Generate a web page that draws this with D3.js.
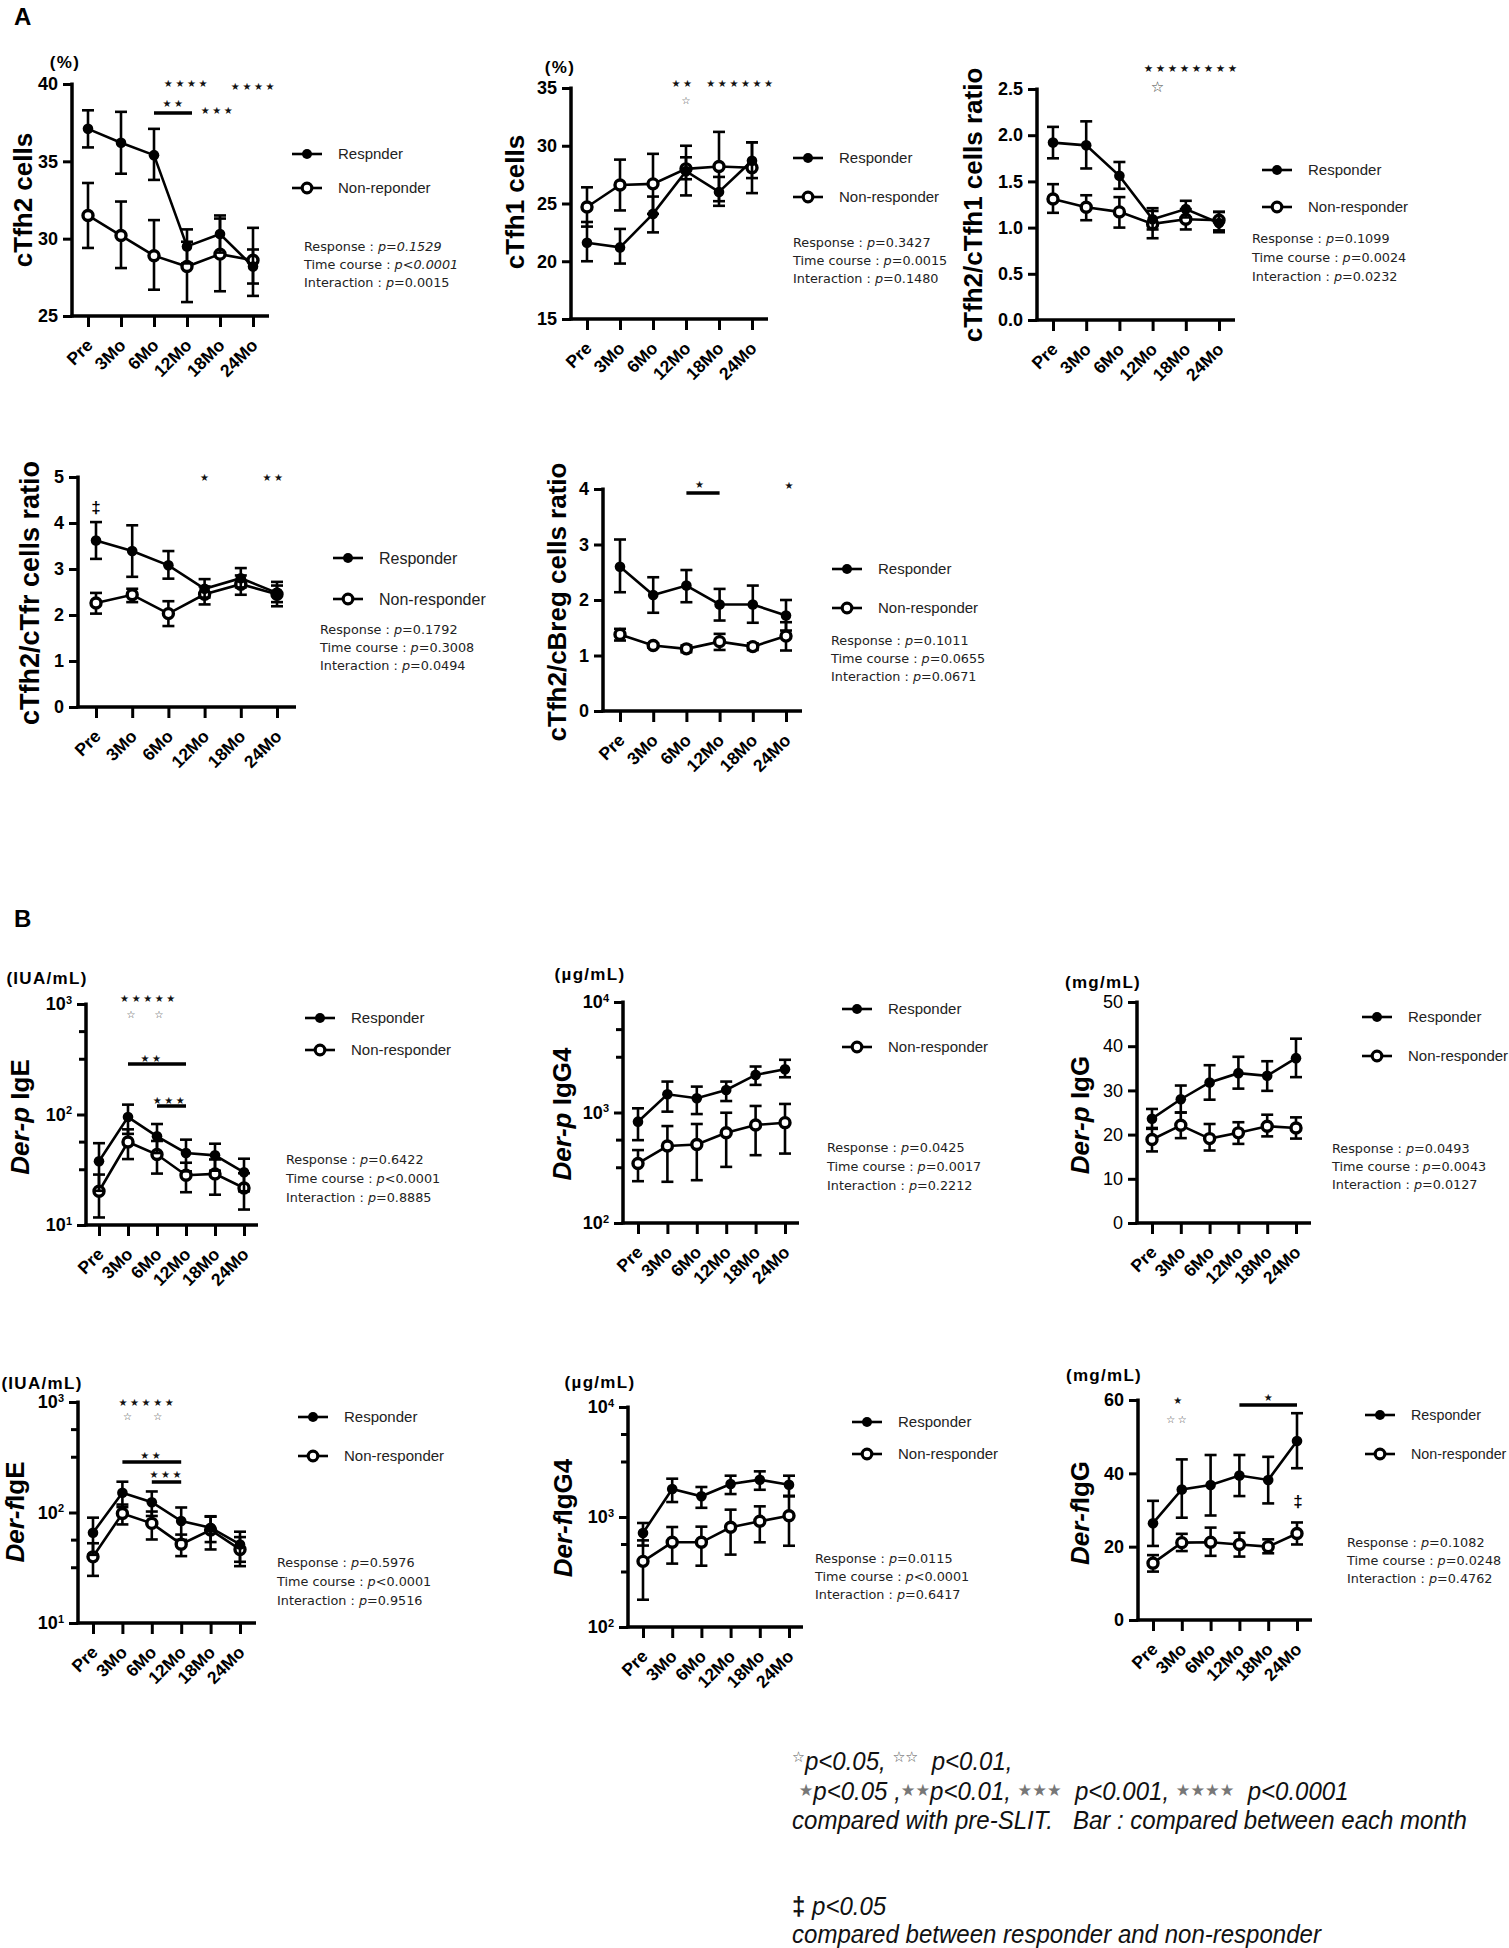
<!DOCTYPE html>
<html>
<head>
<meta charset="utf-8">
<title>Tfh subsets and mite specific antibodies during SLIT</title>
<script src="https://d3js.org/d3.v7.min.js"></script>
<style>
  body { margin: 0; background: #fff; }
  svg { display: block; }
</style>
</head>
<body>
<script>
const months = ["Pre", "3Mo", "6Mo", "12Mo", "18Mo", "24Mo"];

// A  cTfh2 cells (%)
const tfh2R   = [37.1, 36.2, 35.4, 29.5, 30.3, 28.2];
const tfh2RLo = [35.9, 34.2, 33.8, 28.4, 29.1, 27.1];
const tfh2RHi = [38.3, 38.2, 37.1, 30.6, 31.5, 29.3];
const tfh2N   = [31.5, 30.2, 28.9, 28.2, 29.0, 28.6];
const tfh2NLo = [29.4, 28.1, 26.7, 25.9, 26.6, 26.3];
const tfh2NHi = [33.6, 32.4, 31.2, 29.8, 31.3, 30.7];

// A  cTfh1 cells (%)
const tfh1R   = [21.6, 21.2, 24.1, 27.8, 26.0, 28.7];
const tfh1RLo = [20.0, 19.8, 22.5, 27.1, 24.8, 27.2];
const tfh1RHi = [23.4, 22.8, 25.6, 29.0, 27.3, 30.3];
const tfh1N   = [24.7, 26.6, 26.7, 28.0, 28.2, 28.1];
const tfh1NLo = [23.0, 24.4, 24.1, 25.7, 25.2, 25.9];
const tfh1NHi = [26.4, 28.8, 29.3, 30.0, 31.2, 30.3];

// A  cTfh2/cTfh1 ratio
const r21R   = [1.92, 1.89, 1.56, 1.09, 1.20, 1.05];
const r21RLo = [1.75, 1.64, 1.42, 0.98, 1.11, 0.95];
const r21RHi = [2.09, 2.15, 1.71, 1.21, 1.29, 1.17];
const r21N   = [1.31, 1.22, 1.17, 1.04, 1.09, 1.08];
const r21NLo = [1.16, 1.08, 1.00, 0.885, 0.98, 0.97];
const r21NHi = [1.47, 1.35, 1.33, 1.18, 1.20, 1.17];

// A  cTfh2/cTfr ratio
const r2frR   = [3.62, 3.39, 3.08, 2.57, 2.80, 2.48];
const r2frRLo = [3.22, 2.83, 2.79, 2.38, 2.60, 2.28];
const r2frRHi = [4.02, 3.95, 3.39, 2.78, 3.02, 2.72];
const r2frN   = [2.26, 2.44, 2.03, 2.45, 2.67, 2.45];
const r2frNLo = [2.03, 2.28, 1.76, 2.23, 2.44, 2.19];
const r2frNHi = [2.48, 2.57, 2.30, 2.62, 2.86, 2.64];

// A  cTfh2/cBreg ratio
const r2brR   = [2.60, 2.09, 2.26, 1.92, 1.92, 1.72];
const r2brRLo = [2.14, 1.77, 1.96, 1.63, 1.59, 1.45];
const r2brRHi = [3.09, 2.41, 2.54, 2.20, 2.26, 2.00];
const r2brN   = [1.38, 1.18, 1.12, 1.25, 1.16, 1.35];
const r2brNLo = [1.27, 1.14, 1.06, 1.10, 1.10, 1.09];
const r2brNHi = [1.48, 1.22, 1.18, 1.39, 1.22, 1.60];

// B  Der-p IgE (IUA/mL)
const dpIgER   = [37.7, 94.8, 63.4, 44.9, 42.7, 30.0];
const dpIgERLo = [20.4, 66.8, 44.8, 30.6, 31.0, 20.2];
const dpIgERHi = [55.0, 122.8, 82.0, 59.2, 54.4, 39.8];
const dpIgEN   = [20.2, 56.4, 43.4, 28.2, 29.0, 21.6];
const dpIgENLo = [11.7, 39.5, 29.2, 19.8, 18.8, 13.8];
const dpIgENHi = [28.6, 73.4, 57.6, 36.6, 39.2, 29.4];

// B  Der-p IgG4 (ug/mL)
const dpG4R   = [826, 1462, 1345, 1600, 2188, 2466];
const dpG4RLo = [562, 1018, 968, 1270, 1778, 2084];
const dpG4RHi = [1091, 1905, 1715, 1905, 2607, 2999];
const dpG4N   = [346, 497, 514, 656, 771, 809];
const dpG4NLo = [239, 236, 244, 322, 411, 425];
const dpG4NHi = [457, 754, 787, 995, 1146, 1195];

// B  Der-p IgG (mg/mL)
const dpGR   = [23.6, 28.0, 31.8, 33.9, 33.3, 37.3];
const dpGRLo = [21.3, 25.0, 27.9, 30.4, 29.9, 33.0];
const dpGRHi = [25.8, 31.1, 35.7, 37.6, 36.6, 41.7];
const dpGN   = [18.9, 22.1, 19.1, 20.4, 21.9, 21.5];
const dpGNLo = [16.2, 19.2, 16.4, 17.9, 19.6, 19.1];
const dpGNHi = [21.5, 25.0, 22.4, 22.8, 24.5, 23.9];

// B  Der-f IgE (IUA/mL)
const dfIgER   = [65.6, 151, 124, 83.8, 72.8, 51.4];
const dfIgERLo = [41.4, 112, 93, 56.6, 54.0, 35.8];
const dfIgERHi = [89.8, 190, 155, 111, 91.6, 67.0];
const dfIgEN   = [39.7, 98, 79.8, 51.7, 69.4, 46.3];
const dfIgENLo = [26.7, 78, 57, 40.3, 46.3, 32.7];
const dfIgENHi = [52.7, 118, 102, 63.1, 92.5, 59.9];

// B  Der-f IgG4 (ug/mL)
const dfG4R   = [716, 1799, 1543, 1996, 2184, 1967];
const dfG4RLo = [550, 1368, 1212, 1617, 1768, 1559];
const dfG4RHi = [882, 2230, 1874, 2375, 2600, 2375];
const dfG4N   = [395, 589, 589, 806, 914, 1028];
const dfG4NLo = [177, 377, 361, 455, 589, 548];
const dfG4NHi = [613, 811, 817, 1166, 1250, 1540];

// B  Der-f IgG (mg/mL)
const dfGR   = [26.4, 35.6, 36.8, 39.4, 38.2, 48.8];
const dfGRLo = [20.2, 27.9, 28.5, 33.8, 31.8, 41.4];
const dfGRHi = [32.5, 43.8, 45.0, 45.0, 44.5, 56.4];
const dfGN   = [15.5, 21.1, 21.2, 20.6, 20.0, 23.6];
const dfGNLo = [13.2, 18.8, 17.5, 17.3, 18.2, 20.6];
const dfGNHi = [17.7, 23.5, 25.2, 23.8, 22.0, 26.6];

const SANS = '"Liberation Sans", Arial, sans-serif';
const STAR = '"DejaVu Sans", sans-serif';

const svg = d3.select("body").append("svg").attr("width", 1509).attr("height", 1948);

// panel layouts
const panels = [
  { ax: 72, top: 84, bot: 316, xEnd: 269, c0: 88, c5: 253, dom: [25, 40], ticks: [25, 30, 35, 40],
    title: [["cTfh2 cells"]], tx: 23, ty: 200, unit: "(%)", ux: 65, uy: 62,
    r: [tfh2R, tfh2RLo, tfh2RHi], n: [tfh2N, tfh2NLo, tfh2NHi],
    leg: { x: 292, y1: 154, y2: 188, fs: 15, labels: ["Respnder", "Non-reponder"] },
    st: { x: 304, y: 251, gap: 18, v: [["=0.1529", 1], ["<0.0001", 1], ["=0.0015", 0]] },
    notes: [{ t: "★★★★", c: "12Mo", y: 83 }, { t: "★★★★", c: "24Mo", dx: 1, y: 86 },
            { bar: ["6Mo", "12Mo"], y: 113, dx2: 5 }, { t: "★★", c: "6Mo", dx: 20, y: 103 },
            { t: "★★★", c: "18Mo", dx: -2, y: 110 }] },
  { ax: 571, top: 88, bot: 319, xEnd: 768, c0: 587, c5: 752, dom: [15, 35], ticks: [15, 20, 25, 30, 35],
    title: [["cTfh1 cells"]], tx: 515, ty: 202, unit: "(%)", ux: 560, uy: 67,
    r: [tfh1R, tfh1RLo, tfh1RHi], n: [tfh1N, tfh1NLo, tfh1NHi],
    leg: { x: 793, y1: 158, y2: 197, fs: 15 },
    st: { x: 793, y: 247, gap: 18, v: [["=0.3427", 0], ["=0.0015", 0], ["=0.1480", 0]] },
    notes: [{ t: "★★", c: "12Mo", dx: -3, y: 83 }, { t: "☆", c: "12Mo", y: 100, open: 1 },
            { t: "★★★★★★", c: "18Mo", dx: 22, y: 83 }] },
  { ax: 1037, top: 89, bot: 320, xEnd: 1235, c0: 1053, c5: 1219, dom: [0, 2.5], ticks: [0, 0.5, 1, 1.5, 2, 2.5],
    fmt: d3.format(".1f"), title: [["cTfh2/cTfh1 cells ratio"]], tx: 973, ty: 205,
    r: [r21R, r21RLo, r21RHi], n: [r21N, r21NLo, r21NHi],
    leg: { x: 1262, y1: 170, y2: 207, fs: 15 },
    st: { x: 1252, y: 243, gap: 19, v: [["=0.1099", 0], ["=0.0024", 0], ["=0.0232", 0]] },
    notes: [{ t: "★★★★★★★★", c: "18Mo", dx: 6, y: 68, fs: 10.5 }, { t: "☆", c: "12Mo", dx: 5, y: 87, open: 1, fs: 15 }] },
  { ax: 78, top: 477, bot: 707, xEnd: 296, c0: 96, c5: 277, dom: [0, 5], ticks: [0, 1, 2, 3, 4, 5],
    title: [["cTfh2/cTfr cells ratio"]], tx: 29, ty: 593, tfs: 27,
    r: [r2frR, r2frRLo, r2frRHi], n: [r2frN, r2frNLo, r2frNHi],
    leg: { x: 333, y1: 558, y2: 599, fs: 16 },
    st: { x: 320, y: 634, gap: 18, v: [["=0.1792", 0], ["=0.3008", 0], ["=0.0494", 0]] },
    notes: [{ t: "‡", c: "Pre", y: 507, dag: 1 }, { t: "★", c: "12Mo", y: 477 }, { t: "★★", c: "24Mo", dx: -3, y: 477 }] },
  { ax: 603, top: 489, bot: 711, xEnd: 802, c0: 620, c5: 786, dom: [0, 4], ticks: [0, 1, 2, 3, 4],
    title: [["cTfh2/cBreg cells ratio"]], tx: 557, ty: 602,
    r: [r2brR, r2brRLo, r2brRHi], n: [r2brN, r2brNLo, r2brNHi],
    leg: { x: 832, y1: 569, y2: 608, fs: 15 },
    st: { x: 831, y: 645, gap: 18, v: [["=0.1011", 0], ["=0.0655", 0], ["=0.0671", 0]] },
    notes: [{ bar: ["6Mo", "12Mo"], y: 493 }, { t: "★", c: "6Mo", dx: 13, y: 484 }, { t: "★", c: "24Mo", dx: 3, y: 485 }] },
  { ax: 86, top: 1004, bot: 1225, xEnd: 258, c0: 99, c5: 244, dom: [10, 1000], log: 1,
    title: [["Der-p", 1], [" IgE"]], tx: 20, ty: 1117, unit: "(IUA/mL)", ux: 47, uy: 978,
    r: [dpIgER, dpIgERLo, dpIgERHi], n: [dpIgEN, dpIgENLo, dpIgENHi],
    leg: { x: 305, y1: 1018, y2: 1050, fs: 15 },
    st: { x: 286, y: 1164, gap: 19, v: [["=0.6422", 0], ["<0.0001", 0], ["=0.8885", 0]] },
    notes: [{ t: "★★★★★", c: "3Mo", dx: 21, y: 998 }, { t: "☆", c: "3Mo", dx: 3, y: 1014, open: 1 },
            { t: "☆", c: "6Mo", dx: 2, y: 1014, open: 1 },
            { bar: ["3Mo", "12Mo"], y: 1064 }, { t: "★★", c: "6Mo", dx: -5, y: 1058 },
            { bar: ["6Mo", "12Mo"], y: 1106 }, { t: "★★★", c: "6Mo", dx: 13, y: 1100 }] },
  { ax: 623, top: 1002, bot: 1223, xEnd: 799, c0: 638, c5: 785, dom: [100, 10000], log: 1,
    title: [["Der-p", 1], [" IgG4"]], tx: 562, ty: 1114, unit: "(µg/mL)", ux: 590, uy: 974,
    r: [dpG4R, dpG4RLo, dpG4RHi], n: [dpG4N, dpG4NLo, dpG4NHi],
    leg: { x: 842, y1: 1009, y2: 1047, fs: 15 },
    st: { x: 827, y: 1152, gap: 19, v: [["=0.0425", 0], ["=0.0017", 0], ["=0.2212", 0]] },
    notes: [] },
  { ax: 1137, top: 1002, bot: 1223, xEnd: 1311, c0: 1152, c5: 1296, dom: [0, 50], ticks: [0, 10, 20, 30, 40, 50],
    thin: 1, title: [["Der-p", 1], [" IgG"]], tx: 1080, ty: 1115, unit: "(mg/mL)", ux: 1103, uy: 982,
    r: [dpGR, dpGRLo, dpGRHi], n: [dpGN, dpGNLo, dpGNHi],
    leg: { x: 1362, y1: 1017, y2: 1056, fs: 15 },
    st: { x: 1332, y: 1153, gap: 18, v: [["=0.0493", 0], ["=0.0043", 0], ["=0.0127", 0]] },
    notes: [] },
  { ax: 78, top: 1402, bot: 1623, xEnd: 256, c0: 93, c5: 240, dom: [10, 1000], log: 1,
    title: [["Der-f", 1], ["IgE"]], tx: 15, ty: 1512, unit: "(IUA/mL)", ux: 42, uy: 1383,
    r: [dfIgER, dfIgERLo, dfIgERHi], n: [dfIgEN, dfIgENLo, dfIgENHi],
    leg: { x: 298, y1: 1417, y2: 1456, fs: 15 },
    st: { x: 277, y: 1567, gap: 19, v: [["=0.5976", 0], ["<0.0001", 0], ["=0.9516", 0]] },
    notes: [{ t: "★★★★★", c: "3Mo", dx: 25, y: 1402 }, { t: "☆", c: "3Mo", dx: 5, y: 1416, open: 1 },
            { t: "☆", c: "6Mo", dx: 6, y: 1416, open: 1 },
            { bar: ["3Mo", "12Mo"], y: 1462 }, { t: "★★", c: "6Mo", y: 1455 },
            { bar: ["6Mo", "12Mo"], y: 1482 }, { t: "★★★", c: "6Mo", dx: 15, y: 1474 }] },
  { ax: 628, top: 1407, bot: 1627, xEnd: 803, c0: 643, c5: 789, dom: [100, 10000], log: 1,
    title: [["Der-f", 1], ["IgG4"]], tx: 563, ty: 1518, unit: "(µg/mL)", ux: 600, uy: 1382,
    r: [dfG4R, dfG4RLo, dfG4RHi], n: [dfG4N, dfG4NLo, dfG4NHi],
    leg: { x: 852, y1: 1422, y2: 1454, fs: 15 },
    st: { x: 815, y: 1563, gap: 18, v: [["=0.0115", 0], ["<0.0001", 0], ["=0.6417", 0]] },
    notes: [] },
  { ax: 1138, top: 1400, bot: 1620, xEnd: 1312, c0: 1153, c5: 1297, dom: [0, 60], ticks: [0, 20, 40, 60],
    title: [["Der-f", 1], ["IgG"]], tx: 1080, ty: 1513, unit: "(mg/mL)", ux: 1104, uy: 1375,
    r: [dfGR, dfGRLo, dfGRHi], n: [dfGN, dfGNLo, dfGNHi],
    leg: { x: 1365, y1: 1415, y2: 1454, fs: 14.3 },
    st: { x: 1347, y: 1547, gap: 18, v: [["=0.1082", 0], ["=0.0248", 0], ["=0.4762", 0]] },
    notes: [{ t: "★", c: "3Mo", dx: -4, y: 1400 }, { t: "☆☆", c: "3Mo", dx: -4, y: 1419, open: 1 },
            { bar: ["12Mo", "24Mo"], y: 1405 }, { t: "★", c: "18Mo", y: 1397 },
            { t: "‡", c: "24Mo", dx: 1, y: 1501, dag: 1 }] }
];

function series(g, x, y, s, open) {
  const [mean, lo, hi] = s;
  const pts = months.map((m, i) => ({ m, v: mean[i], lo: lo[i], hi: hi[i] }));
  g.append("path").datum(pts)
    .attr("fill", "none").attr("stroke", "#000").attr("stroke-width", 2.6)
    .attr("d", d3.line().x(d => x(d.m)).y(d => y(d.v)));
  const eb = g.append("g").attr("stroke", "#000").attr("stroke-width", 2.6);
  eb.selectAll(".v").data(pts).join("line")
    .attr("x1", d => x(d.m)).attr("x2", d => x(d.m))
    .attr("y1", d => y(d.lo)).attr("y2", d => y(d.hi));
  eb.selectAll(".lo").data(pts).join("line").attr("class", "lo")
    .attr("x1", d => x(d.m) - 6).attr("x2", d => x(d.m) + 6)
    .attr("y1", d => y(d.lo)).attr("y2", d => y(d.lo));
  eb.selectAll(".hi").data(pts).join("line").attr("class", "hi")
    .attr("x1", d => x(d.m) - 6).attr("x2", d => x(d.m) + 6)
    .attr("y1", d => y(d.hi)).attr("y2", d => y(d.hi));
  g.selectAll(null).data(pts).join("circle")
    .attr("cx", d => x(d.m)).attr("cy", d => y(d.v))
    .attr("r", open ? 5 : 5.3)
    .attr("fill", open ? "#fff" : "#000")
    .attr("stroke", "#000").attr("stroke-width", open ? 3.4 : 0);
}

function drawPanel(p) {
  const g = svg.append("g");
  const x = d3.scalePoint().domain(months).range([p.c0, p.c5]);
  const y = (p.log ? d3.scaleLog() : d3.scaleLinear()).domain(p.dom).range([p.bot, p.top]);

  const ticks = p.log ? d3.range(Math.log10(p.dom[0]), Math.log10(p.dom[1]) + 1).map(k => 10 ** k) : p.ticks;
  const ya = g.append("g").attr("transform", `translate(${p.ax},0)`)
    .call(d3.axisLeft(y).tickValues(ticks).tickSize(9).tickPadding(5).tickFormat(p.fmt || d3.format("")));
  ya.select(".domain").remove();
  ya.selectAll(".tick line").attr("stroke", "#000").attr("stroke-width", 3);
  ya.selectAll(".tick text").attr("fill", "#000").attr("font-family", SANS)
    .attr("font-size", 18).attr("font-weight", p.thin ? 400 : 700);
  if (p.log) {
    ya.selectAll(".tick text").each(function (d) {
      const t = d3.select(this).text("10");
      t.append("tspan").attr("dy", "-0.6em").attr("font-size", 11).text(Math.round(Math.log10(d)));
    });
    const minor = [];
    for (let k = Math.log10(p.dom[0]); k < Math.log10(p.dom[1]); k++) minor.push(10 ** (k + 0.5), 10 ** (k + 0.75));
    g.selectAll(null).data(minor).join("line")
      .attr("x1", p.ax - 7).attr("x2", p.ax).attr("y1", d => y(d)).attr("y2", d => y(d))
      .attr("stroke", "#000").attr("stroke-width", 3);
  }

  const xa = g.append("g").attr("transform", `translate(0,${p.bot})`)
    .call(d3.axisBottom(x).tickSize(11).tickPadding(0));
  xa.select(".domain").remove();
  xa.selectAll(".tick line").attr("stroke", "#000").attr("stroke-width", 3);
  xa.selectAll(".tick text").attr("fill", "#000").attr("font-family", SANS)
    .attr("font-size", 17.5).attr("font-weight", 700)
    .attr("text-anchor", "end").attr("x", 0).attr("y", 0).attr("dy", "0.35em")
    .attr("transform", "translate(1,26) rotate(-45)");

  g.append("line").attr("x1", p.ax).attr("x2", p.ax).attr("y1", p.top - 1.5).attr("y2", p.bot + 1.5)
    .attr("stroke", "#000").attr("stroke-width", 3.5);
  g.append("line").attr("x1", p.ax - 1.5).attr("x2", p.xEnd).attr("y1", p.bot).attr("y2", p.bot)
    .attr("stroke", "#000").attr("stroke-width", 3.5);

  // y title
  const tt = g.append("text").attr("transform", `translate(${p.tx},${p.ty}) rotate(-90)`)
    .attr("text-anchor", "middle").attr("dy", "0.36em")
    .attr("font-family", SANS).attr("font-size", p.tfs || 26).attr("font-weight", 700);
  p.title.forEach(([s, it]) => tt.append("tspan").attr("font-style", it ? "italic" : "normal").text(s));

  if (p.unit) {
    g.append("text").attr("x", p.ux).attr("y", p.uy).attr("dy", "0.35em").attr("text-anchor", "middle")
      .attr("font-family", SANS).attr("font-size", 17).attr("font-weight", 700)
      .attr("letter-spacing", 1.3).text(p.unit);
  }

  series(g, x, y, p.n, true);
  series(g, x, y, p.r, false);

  // significance marks
  p.notes.forEach(n => {
    if (n.bar) {
      g.append("line").attr("x1", x(n.bar[0])).attr("x2", x(n.bar[1]) + (n.dx2 || 0))
        .attr("y1", n.y).attr("y2", n.y).attr("stroke", "#000").attr("stroke-width", 3.5);
      return;
    }
    const t = g.append("text").attr("x", x(n.c) + (n.dx || 0)).attr("y", n.y)
      .attr("text-anchor", "middle").attr("dy", "0.36em").text(n.t);
    if (n.dag) {
      t.attr("font-family", SANS).attr("font-size", 17).attr("font-weight", 700);
    } else {
      t.attr("font-family", STAR).attr("font-size", n.fs || 10)
        .attr("fill", n.open ? "#444" : "#111").attr("letter-spacing", n.t.length > 1 ? 2.6 : 0);
    }
  });

  // legend
  const labels = p.leg.labels || ["Responder", "Non-responder"];
  [p.leg.y1, p.leg.y2].forEach((ly, i) => {
    g.append("line").attr("x1", p.leg.x).attr("x2", p.leg.x + 30).attr("y1", ly).attr("y2", ly)
      .attr("stroke", "#000").attr("stroke-width", 2.6);
    g.append("circle").attr("cx", p.leg.x + 15).attr("cy", ly).attr("r", i ? 4.8 : 5)
      .attr("fill", i ? "#fff" : "#000").attr("stroke", "#000").attr("stroke-width", i ? 3.2 : 0);
    g.append("text").attr("x", p.leg.x + 46).attr("y", ly).attr("dy", "0.35em")
      .attr("font-family", SANS).attr("font-size", p.leg.fs).attr("fill", "#222").text(labels[i]);
  });

  // two-way ANOVA summary
  const heads = ["Response : ", "Time course : ", "Interaction : "];
  p.st.v.forEach(([val, it], i) => {
    const t = g.append("text").attr("x", p.st.x).attr("y", p.st.y + i * p.st.gap)
      .attr("font-family", STAR).attr("font-size", 12.8).attr("fill", "#222");
    t.append("tspan").text(heads[i]);
    t.append("tspan").attr("font-style", "italic").text("p");
    t.append("tspan").attr("font-style", it ? "italic" : "normal").text(val);
  });
}

panels.forEach(drawPanel);

// panel letters
svg.append("text").attr("x", 14).attr("y", 25).attr("font-family", SANS).attr("font-size", 24)
  .attr("font-weight", 700).text("A");
svg.append("text").attr("x", 14).attr("y", 927).attr("font-family", SANS).attr("font-size", 24)
  .attr("font-weight", 700).text("B");

// footnote
const foot = svg.append("g").attr("font-family", SANS).attr("font-size", 25).attr("font-style", "italic")
  .attr("fill", "#111").style("white-space", "pre");
function fline(y) { return foot.append("text").attr("xml:space", "preserve").attr("x", 0).attr("y", y); }
function starSpan(t, s, open, lift, fs) {
  t.append("tspan").attr("font-family", STAR).attr("font-style", "normal")
    .attr("font-size", fs).attr("fill", open ? "#555" : "#777").attr("dy", -lift).text(s);
  return t.append("tspan").attr("dy", lift);
}
const l1 = fline(1770);
starSpan(l1, "☆", 1, 8, 15).text("p<0.05, ");
starSpan(l1, "☆☆", 1, 8, 15).text("  p<0.01,");
const l2 = fline(1800);
l2.append("tspan").text(" ");
starSpan(l2, "★", 0, 4, 17).text("p<0.05 ,");
starSpan(l2, "★★", 0, 4, 17).text("p<0.01, ");
starSpan(l2, "★★★", 0, 4, 17).text("  p<0.001, ");
starSpan(l2, "★★★★", 0, 4, 17).text("  p<0.0001");
const l3 = fline(1829).text("compared with pre-SLIT.   Bar : compared between each month");
const l4 = fline(1915);
l4.append("tspan").attr("font-style", "normal").attr("font-weight", 700).text("‡");
l4.append("tspan").text(" p<0.05");
fline(1943).text("compared between responder and non-responder");
const sx = 675 / l3.node().getComputedTextLength();
foot.attr("transform", `translate(792,0) scale(${sx},1)`);
</script>
</body>
</html>
